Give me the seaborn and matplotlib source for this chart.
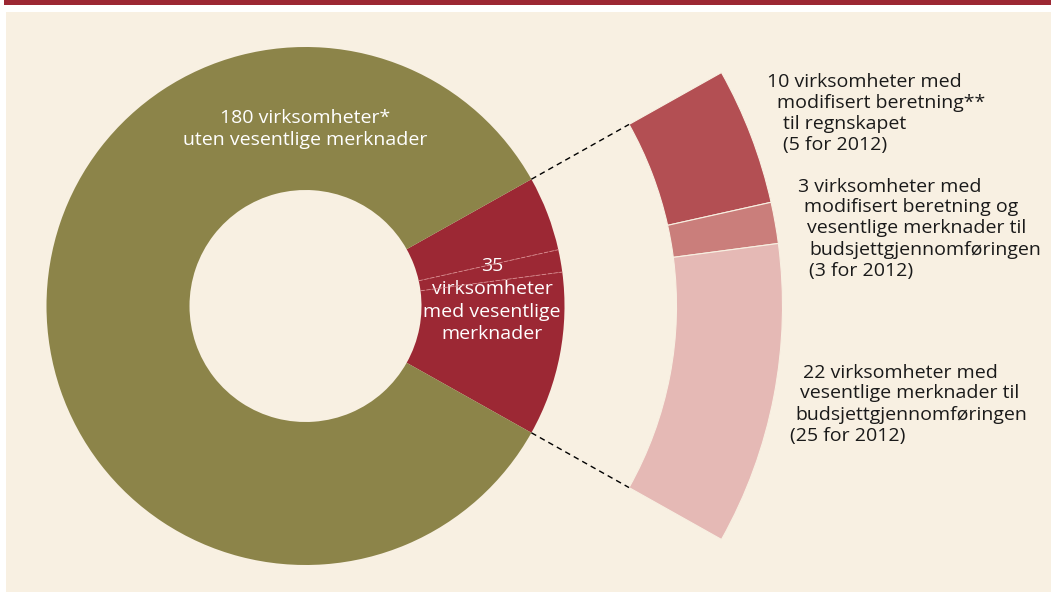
import numpy as np
import matplotlib
matplotlib.use('Agg')
import matplotlib.pyplot as plt
import seaborn as sns
from matplotlib.patches import Rectangle

# data
main_labels = ['10 med modifisert beretning', '3 med begge', '22 med merknader', '180 uten merknader']
main_values = [10, 3, 22, 180]
sub_values = [10, 3, 22]

main_colors = ['#9C2834', '#9C2834', '#9C2834', '#8C8449']
sub_colors = ['#B34F53', '#CA7E7B', '#E5B9B5']

donut_text_big = ['180 virksomheter*', 'uten vesentlige merknader']
donut_text_small = ['35', 'virksomheter', 'med vesentlige', 'merknader']

label_1 = ['10 virksomheter med', 'modifisert beretning**', 'til regnskapet', '(5 for 2012)']
label_2 = ['3 virksomheter med', 'modifisert beretning og', 'vesentlige merknader til',
           'budsjettgjennomføringen', '(3 for 2012)']
label_3 = ['22 virksomheter med', 'vesentlige merknader til', 'budsjettgjennomføringen', '(25 for 2012)']

sns.set_theme(style='white')
plt.rcParams['font.family'] = ['Open Sans', 'DejaVu Sans']

W, H = 1051, 592
fig = plt.figure(figsize=(W / 100, H / 100), dpi=100)
fig.patch.set_facecolor('white')
ax = fig.add_axes([0, 0, 1, 1])

def py(y):
    return H - y

# background panel and top bar
ax.add_patch(Rectangle((6, 0), W - 6, py(12), facecolor='#F8F0E2', edgecolor='none', zorder=0))
ax.add_patch(Rectangle((4, py(5)), W - 4, 5, facecolor='#9C2833', edgecolor='none', zorder=0))

cx, cy = 305.5, py(306)
r_out, r_in = 259, 116
a_in, a_out = 371, 477

total = sum(main_values)
half_angle = 360 * sum(sub_values) / total / 2

# main donut
ax.pie(main_values, colors=main_colors, startangle=half_angle, counterclock=False,
       center=(cx, cy), radius=r_out, frame=True,
       wedgeprops=dict(width=r_out - r_in, linewidth=0, edgecolor='none'))

# faint division lines inside the red part
cum = np.cumsum(sub_values)[:-1]
for c in cum:
    ang = np.deg2rad(half_angle - 360 * c / total)
    ax.plot([cx + r_in * np.cos(ang), cx + r_out * np.cos(ang)],
            [cy + r_in * np.sin(ang), cy + r_out * np.sin(ang)],
            color='#D98A8F', lw=0.6, ls=(0, (5, 2)), zorder=5)

# exploded arc of the 35
wedges, _ = ax.pie(sub_values + [total - sum(sub_values)], colors=sub_colors + ['none'],
                   startangle=half_angle, counterclock=False, center=(cx, cy), radius=a_out,
                   frame=True,
                   wedgeprops=dict(width=a_out - a_in, linewidth=0.8, edgecolor='#F8F0E2'))
wedges[-1].set_visible(False)

# connector lines
for s in (1, -1):
    ang = np.deg2rad(s * half_angle)
    ax.plot([cx + r_out * np.cos(ang), cx + a_in * np.cos(ang)],
            [cy + r_out * np.sin(ang), cy + a_in * np.sin(ang)],
            color='black', lw=1, ls=(0, (4, 3)), zorder=4)

fs = 14
for txt, y in zip(donut_text_big, [118, 140]):
    ax.text(305, py(y), txt, color='white', fontsize=fs, ha='center', va='center')
for txt, y in zip(donut_text_small, [266, 289, 312, 334]):
    ax.text(492, py(y), txt, color='white', fontsize=fs, ha='center', va='center')

pos_1 = [(767, 82), (777, 103), (783, 124), (783, 145)]
pos_2 = [(798, 187), (804, 207), (807, 228), (809, 250), (809, 271)]
pos_3 = [(803, 373), (800, 393), (795, 415), (790, 436)]
for lines, pos in [(label_1, pos_1), (label_2, pos_2), (label_3, pos_3)]:
    for txt, (x, y) in zip(lines, pos):
        ax.text(x, py(y), txt, color='#1A1A1A', fontsize=fs, ha='left', va='center')

ax.set_xlim(0, W)
ax.set_ylim(0, H)
ax.set_aspect('equal')
ax.axis('off')

fig.savefig('out.png', dpi=100, facecolor='white')
